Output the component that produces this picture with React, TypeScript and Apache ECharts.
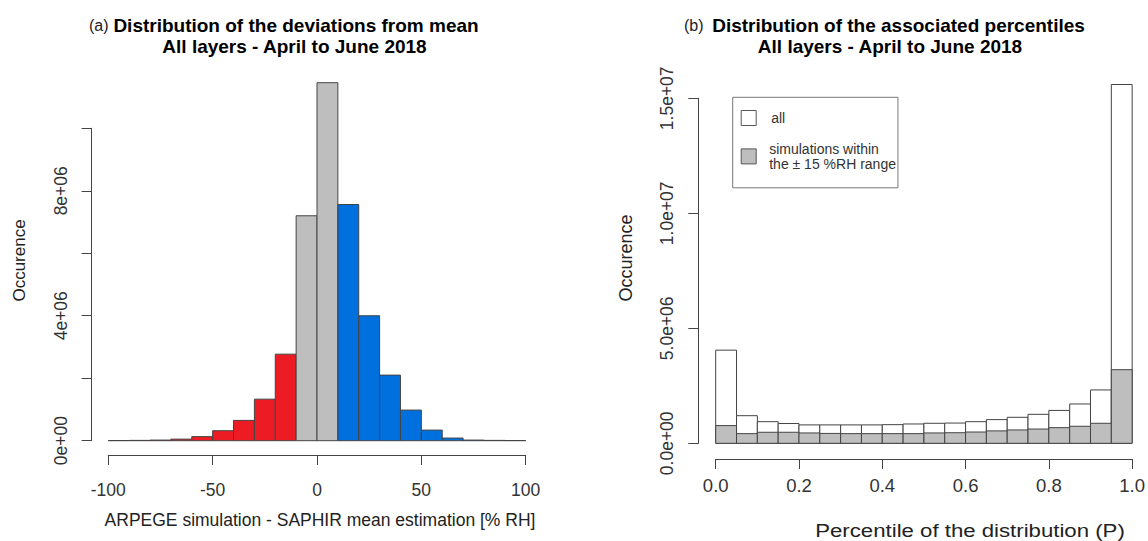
import React, { useEffect, useRef } from "react";
import * as echarts from "echarts";

// ---------- Panel (a): deviations from mean ----------
const leftBinStarts = [-100, -90, -80, -70, -60, -50, -40, -30, -20, -10, 0, 10, 20, 30, 40, 50, 60, 70, 80, 90];
const leftBinWidth = 10;
const leftCounts = [
  0.005e6, 0.01e6, 0.02e6, 0.05e6, 0.13e6, 0.32e6, 0.65e6, 1.33e6, 2.77e6, 7.2e6,
  11.46e6, 7.56e6, 4.0e6, 2.1e6, 0.98e6, 0.34e6, 0.085e6, 0.02e6, 0.01e6, 0.005e6,
];
const leftXTickValues = [-100, -50, 0, 50, 100];
const leftXTickLabels = ["-100", "-50", "0", "50", "100"];
const leftYTickValues = [0, 4e6, 8e6];
const leftYTickLabels = ["0e+00", "4e+06", "8e+06"];

// ---------- Panel (b): associated percentiles ----------
const rightBinStarts = [0, 0.05, 0.1, 0.15, 0.2, 0.25, 0.3, 0.35, 0.4, 0.45, 0.5, 0.55, 0.6, 0.65, 0.7, 0.75, 0.8, 0.85, 0.9, 0.95];
const rightBinWidth = 0.05;
const rightAll = [
  4.05e6, 1.2e6, 0.94e6, 0.86e6, 0.8e6, 0.8e6, 0.8e6, 0.8e6, 0.81e6, 0.84e6,
  0.87e6, 0.88e6, 0.94e6, 1.03e6, 1.13e6, 1.26e6, 1.43e6, 1.71e6, 2.32e6, 15.6e6,
];
const rightWithin = [
  0.77e6, 0.42e6, 0.48e6, 0.48e6, 0.45e6, 0.43e6, 0.42e6, 0.42e6, 0.42e6, 0.42e6,
  0.45e6, 0.46e6, 0.49e6, 0.54e6, 0.58e6, 0.62e6, 0.68e6, 0.74e6, 0.87e6, 3.2e6,
];
const rightXTickValues = [0, 0.2, 0.4, 0.6, 0.8, 1];
const rightXTickLabels = ["0.0", "0.2", "0.4", "0.6", "0.8", "1.0"];
const rightYTickValues = [0, 5e6, 10e6, 15e6];
const rightYTickLabels = ["0.0e+00", "5.0e+06", "1.0e+07", "1.5e+07"];

const seriesAllName = "all";
const seriesWithinName = "simulations within the ± 15 %RH range";

const FONT = "'Liberation Sans', Arial, Helvetica, sans-serif";
const AXIS = "#444";
const RED = "#ED1C24";
const GRAY = "#BEBEBE";
const BLUE = "#0070DE";

function labelFor(values: number[], labels: string[]) {
  return (v: number) => {
    for (let i = 0; i < values.length; i++) {
      if (Math.abs(values[i] - v) < 1e-6 * Math.max(1, Math.abs(v))) return labels[i];
    }
    return "";
  };
}

function histRect(fillFn: (x0: number, x1: number) => string) {
  return (params: any, api: any) => {
    const x0 = api.value(0);
    const x1 = api.value(1);
    const y = api.value(2);
    const p0 = api.coord([x0, y]);
    const p1 = api.coord([x1, 0]);
    return {
      type: "rect",
      shape: { x: p0[0], y: p0[1], width: p1[0] - p0[0], height: p1[1] - p0[1] },
      style: { fill: fillFn(x0, x1), stroke: AXIS, lineWidth: 1 },
    };
  };
}

function axisCommon(fontSize: number, margin: number) {
  return {
    type: "value" as const,
    axisLine: { show: true, onZero: false, lineStyle: { color: AXIS, width: 1 } },
    axisTick: { show: true, length: 10, lineStyle: { color: AXIS, width: 1 } },
    splitLine: { show: false },
    axisLabel: { fontSize, color: "#333", fontFamily: FONT, margin },
  };
}

export default function App() {
  const ref = useRef<HTMLDivElement>(null);
  useEffect(() => {
    if (!ref.current) return;
    const chart = echarts.init(ref.current, undefined, { renderer: "svg" });

    const leftData = leftBinStarts.map((s, i) => [s, s + leftBinWidth, leftCounts[i]]);
    const rightAllData = rightBinStarts.map((s, i) => [s, s + rightBinWidth, rightAll[i]]);
    const rightWithinData = rightBinStarts.map((s, i) => [s, s + rightBinWidth, rightWithin[i]]);

    const t = (x: number, y: number, text: string, font: string, extra: any = {}) => ({
      type: "text",
      x,
      y,
      rotation: extra.rotation || 0,
      scaleX: extra.scaleX || 1,
      style: {
        text,
        font,
        fill: extra.fill || "#000",
        align: extra.align || "center",
        verticalAlign: "middle",
      },
    });

    const option: any = {
      animation: false,
      backgroundColor: "#fff",
      grid: [
        { left: 108.3, top: 128.3, width: 417.4, height: 312.4, containLabel: false },
        { left: 715.7, top: 98.3, width: 419.3, height: 345, containLabel: false },
      ],
      xAxis: [
        (() => {
          const a: any = axisCommon(17.5, 26);
          a.gridIndex = 0;
          a.min = -100;
          a.max = 100;
          a.interval = 50;
          a.offset = 14.3;
          a.axisLabel.formatter = labelFor(leftXTickValues, leftXTickLabels);
          return a;
        })(),
        (() => {
          const a: any = axisCommon(18.5, 17);
          a.gridIndex = 1;
          a.min = 0;
          a.max = 1;
          a.interval = 0.2;
          a.offset = 15.7;
          a.axisLabel.formatter = labelFor(rightXTickValues, rightXTickLabels);
          return a;
        })(),
      ],
      yAxis: [
        (() => {
          const a: any = axisCommon(17.5, 22);
          a.gridIndex = 0;
          a.min = 0;
          a.max = 1e7;
          a.interval = 2e6;
          a.offset = 16.7;
          a.axisLabel.rotate = 90;
          a.axisLabel.formatter = labelFor(leftYTickValues, leftYTickLabels);
          return a;
        })(),
        (() => {
          const a: any = axisCommon(17.5, 22);
          a.gridIndex = 1;
          a.min = 0;
          a.max = 1.5e7;
          a.interval = 5e6;
          a.offset = 17.4;
          a.axisLabel.rotate = 90;
          a.axisLabel.formatter = labelFor(rightYTickValues, rightYTickLabels);
          return a;
        })(),
      ],
      legend: {
        show: true,
        orient: "vertical",
        left: 732.7,
        top: 97.3,
        padding: [12.7, 2, 17, 8],
        itemWidth: 15,
        itemHeight: 15,
        itemGap: 16,
        icon: "rect",
        selectedMode: false,
        borderColor: "#777",
        borderWidth: 1,
        backgroundColor: "#fff",
        textStyle: { fontSize: 14, color: "#333", fontFamily: FONT, lineHeight: 14.4, padding: [0, 0, 0, 8] },
        formatter: (name: string) =>
          name === seriesWithinName ? "simulations within\nthe ± 15 %RH range" : name,
        data: [
          {
            name: seriesAllName,
            itemStyle: { color: "#fff", borderColor: "#555", borderWidth: 1 },
            textStyle: { padding: [0, 0, 0, 10] },
          },
          {
            name: seriesWithinName,
            itemStyle: { color: GRAY, borderColor: "#555", borderWidth: 1 },
          },
        ],
      },
      series: [
        {
          type: "custom",
          name: "deviations",
          xAxisIndex: 0,
          yAxisIndex: 0,
          clip: false,
          encode: { x: [0, 1], y: 2 },
          renderItem: histRect((x0, x1) => (x1 <= -10 ? RED : x0 >= 10 ? BLUE : GRAY)),
          data: leftData,
        },
        {
          type: "custom",
          name: seriesAllName,
          xAxisIndex: 1,
          yAxisIndex: 1,
          clip: false,
          itemStyle: { color: "#fff", borderColor: "#555", borderWidth: 1 },
          encode: { x: [0, 1], y: 2 },
          renderItem: histRect(() => "#fff"),
          data: rightAllData,
        },
        {
          type: "custom",
          name: seriesWithinName,
          xAxisIndex: 1,
          yAxisIndex: 1,
          clip: false,
          itemStyle: { color: GRAY, borderColor: "#555", borderWidth: 1 },
          encode: { x: [0, 1], y: 2 },
          renderItem: histRect(() => GRAY),
          data: rightWithinData,
        },
      ],
      graphic: [
        t(89, 25.5, "(a)", `16px ${FONT}`, { align: "left", fill: "#222" }),
        t(296, 25.5, "Distribution of the deviations from mean", `bold 19px ${FONT}`),
        t(294.5, 46.7, "All layers - April to June 2018", `bold 19px ${FONT}`),
        t(684, 25.5, "(b)", `16px ${FONT}`, { align: "left", fill: "#222" }),
        t(898.5, 25.5, "Distribution of the associated percentiles", `bold 19px ${FONT}`),
        t(890, 46.7, "All layers - April to June 2018", `bold 19px ${FONT}`),
        t(19, 260.5, "Occurence", `17px ${FONT}`, { rotation: Math.PI / 2, fill: "#222" }),
        t(320, 519.5, "ARPEGE simulation - SAPHIR mean estimation [% RH]", `17.5px ${FONT}`, { fill: "#222" }),
        t(626, 258, "Occurence", `18px ${FONT}`, { rotation: Math.PI / 2, fill: "#222" }),
        t(970, 530.5, "Percentile of the distribution (P)", `18.5px ${FONT}`, { fill: "#222", scaleX: 1.2 }),
      ],
    };

    chart.setOption(option);
    return () => chart.dispose();
  }, []);

  return (
    <div
      ref={ref}
      style={{ position: "fixed", left: 0, top: 0, width: 1148, height: 541, background: "#fff" }}
    />
  );
}
